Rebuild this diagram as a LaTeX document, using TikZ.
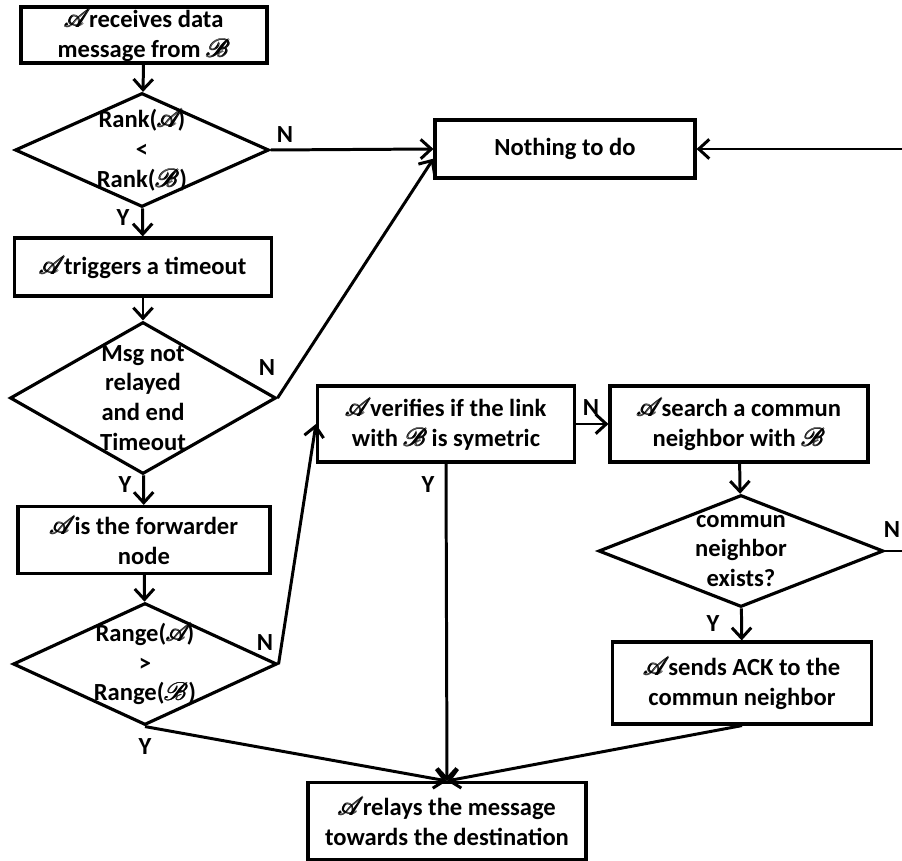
\documentclass[tikz,border=0pt]{standalone}
\usepackage{fontspec}
\setmainfont{Carlito}
\usepackage{amsmath}
\usepackage{mathrsfs}
\usetikzlibrary{shapes.geometric,arrows.meta}

\newcommand{\flowfont}{\fontsize{14}{17}\selectfont\bfseries}
\newcommand{\nA}{$\pmb{\mathscr{A}}\mkern-4mu$}
\newcommand{\nB}{$\pmb{\mathscr{B}}$}

\tikzset{
  stepbox/.style={draw, line width=1.8pt, align=center, font=\flowfont, inner sep=1pt},
  test/.style={draw, diamond, line width=1.8pt, inner sep=0pt},
  testtext/.style={font=\flowfont, align=center, inner sep=0pt},
  arr/.style={line width=1.7pt, -{Straight Barb[length=6pt,width=11pt]}},
  yn/.style={font=\flowfont, inner sep=0pt},
}

\begin{document}
\begin{tikzpicture}[x=0.02cm, y=-0.02cm]
  \useasboundingbox (0,0) rectangle (902,861);
  \clip (0,0) rectangle (902,861);

  % left column
  \node[stepbox, minimum width=4.92cm, minimum height=1.12cm] (recv) at (144,35)
    {\nA\,receives data\\message from \nB};
  \node[test, minimum width=5.08cm, minimum height=2.28cm,
    label={[testtext]center:Rank(\nA)\\<\\Rank(\nB)}] (rank) at (142,150) {};
  \node[stepbox, minimum width=5.14cm, minimum height=1.16cm] (trig) at (143,267)
    {\nA\,triggers a timeout};
  \node[test, minimum width=5.32cm, minimum height=3.04cm,
    label={[testtext]center:Msg not\\relayed\\and end\\Timeout}] (msg) at (143,398) {};
  \node[stepbox, minimum width=5.04cm, minimum height=1.34cm] (fwd) at (144,540)
    {\nA\,is the forwarder\\node};
  \node[test, minimum width=5.28cm, minimum height=2.44cm,
    label={[testtext]center:Range(\nA)\\>\\Range(\nB)}] (range) at (145,664) {};

  % right part
  \node[stepbox, minimum width=5.2cm, minimum height=1.16cm] (none) at (565,149)
    {Nothing to do};
  \node[stepbox, minimum width=5.14cm, minimum height=1.52cm] (verif) at (446,424)
    {\nA\,verifies if the link\\with \nB\,is symetric};
  \node[stepbox, minimum width=5.16cm, minimum height=1.52cm] (search) at (739,424)
    {\nA\,search a commun\\neighbor with \nB};
  \node[test, minimum width=5.7cm, minimum height=2.24cm,
    label={[testtext]center:commun\\neighbor\\exists?}] (comm) at (741,551) {};
  \node[stepbox, minimum width=5.18cm, minimum height=1.64cm] (ack) at (742,683)
    {\nA\,sends ACK to the\\commun neighbor};
  \node[stepbox, minimum width=5.56cm, minimum height=1.54cm] (relay) at (447,821)
    {\nA\,relays the message\\towards the destination};

  \coordinate (commOut) at (940,551);

  % connectors
  \draw[arr] (recv) -- (rank);
  \draw[arr] (rank.east) -- (none.west);
  \draw[arr] (rank) -- (trig);
  \draw[arr] (trig) -- (msg);
  \draw[arr] (msg.east) -- ([yshift=-5.5pt]none.west);
  \draw[arr] (msg) -- (fwd);
  \draw[arr] (fwd) -- (range);
  \draw[arr] (range.east) -- (verif.west);
  \draw[arr] (range.south) -- (relay.north);
  \draw[arr] (verif) -- (search);
  \draw[arr] (verif.south) -- (relay.north);
  \draw[arr] (search) -- (comm);
  \draw[arr] (comm.east) -- (commOut) |- (none.east);
  \draw[arr] (comm) -- (ack);
  \draw[arr] (ack.south) -- (relay.north);

  % answers
  \node[yn] (nRank) at (285,135) {N};
  \node[yn] (yRank) at (123,218) {Y};
  \node[yn] (nMsg) at (267,368) {N};
  \node[yn] (yMsg) at (125,485) {Y};
  \node[yn] (nRange) at (265,643) {N};
  \node[yn] (yRange) at (145,747) {Y};
  \node[yn] (nVerif) at (591,408) {N};
  \node[yn] (yVerif) at (428,485) {Y};
  \node[yn] (nComm) at (892,530) {N};
  \node[yn] (yComm) at (713,624) {Y};
\end{tikzpicture}
\end{document}
